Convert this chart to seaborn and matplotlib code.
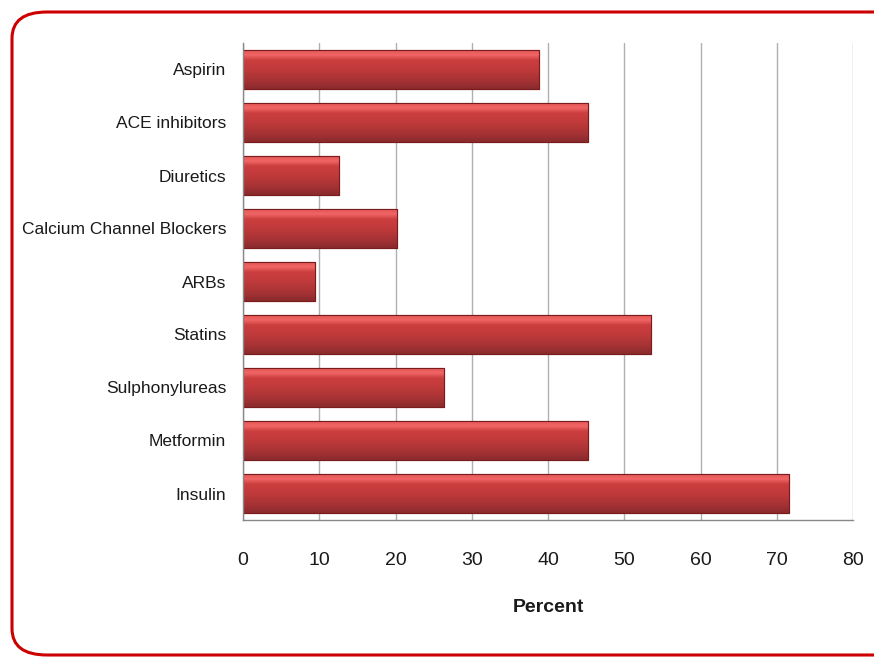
import numpy as np
import pandas as pd
import matplotlib
matplotlib.use("Agg")
import matplotlib.pyplot as plt
import seaborn as sns
from matplotlib.patches import FancyBboxPatch
from matplotlib.colors import LinearSegmentedColormap

categories = ["Aspirin", "ACE inhibitors", "Diuretics", "Calcium Channel Blockers",
              "ARBs", "Statins", "Sulphonylureas", "Metformin", "Insulin"]
values = [38.8, 45.3, 12.6, 20.2, 9.5, 53.5, 26.4, 45.2, 71.6]
xticks = [0, 10, 20, 30, 40, 50, 60, 70, 80]

sns.set_style("white")
plt.rcParams['font.family'] = ['Liberation Sans', 'DejaVu Sans']

df = pd.DataFrame({"drug": categories, "pct": values})

fig = plt.figure(figsize=(8.74, 6.59), dpi=100)
ax = fig.add_axes([243/874, 1-520/659, (853-243)/874, (520-43)/659])

sns.barplot(data=df, x="pct", y="drug", orient="h", color="#C0393B",
            width=0.72, edgecolor="#7a1c1e", linewidth=0.8, ax=ax, saturation=1)

# gradient overlay on each bar (light top, dark bottom)
cmap = LinearSegmentedColormap.from_list(
    "g", [(0.0, "#8a2a2c"), (0.2, "#a43234"), (0.5, "#c03a3b"),
          (0.75, "#cc3e3f"), (0.88, "#f06666"), (1.0, "#e45656")])
grad = np.linspace(0, 1, 64).reshape(-1, 1)
for p in list(ax.patches):
    x0, y0 = p.get_x(), p.get_y()
    w, h = p.get_width(), p.get_height()
    im = ax.imshow(grad, cmap=cmap, aspect="auto", extent=(x0, x0 + w, y0 + h, y0),
                   origin="lower", zorder=p.get_zorder() + 0.1)
    im.set_clip_path(p)
    ax.add_patch(plt.Rectangle((x0, y0), w, h, fill=False, edgecolor="#7a1c1e",
                               linewidth=0.8, zorder=p.get_zorder() + 0.2))

ax.set_xlim(0, 80)
ax.set_ylim(len(categories) - 0.5, -0.5)
ax.set_xticks(xticks)
ax.set_xticklabels([str(t) for t in xticks], fontsize=14, color="#1a1a1a")
ax.set_yticks(np.arange(len(categories)))
ax.set_yticklabels(categories, fontsize=12.5, color="#1a1a1a")
ax.tick_params(axis="y", length=0, pad=12)
# category boundary tick marks
ax.set_yticks(np.arange(-0.5, len(categories), 1), minor=True)
ax.tick_params(axis="y", which="minor", length=6, color="#888888", width=1)
ax.tick_params(axis="x", length=6, color="#888888", width=1, pad=17)
ax.grid(axis="x", color="#b0b0b0", linewidth=1)
ax.set_axisbelow(True)
for s in ["top", "right"]:
    ax.spines[s].set_visible(False)
for s in ["left", "bottom"]:
    ax.spines[s].set_color("#888888")
    ax.spines[s].set_linewidth(1)
ax.set_xlabel("Percent", fontsize=14, fontweight="bold", labelpad=22, color="#1a1a1a")
ax.set_ylabel("")

border = FancyBboxPatch((12/874, 4/659), 900/874, (647-4)/659,
                        boxstyle="round,pad=0,rounding_size=0.04",
                        transform=fig.transFigure, fill=False,
                        edgecolor="#cc0000", linewidth=2.2, clip_on=False)
fig.patches.append(border)

fig.savefig("out.png", dpi=100)
